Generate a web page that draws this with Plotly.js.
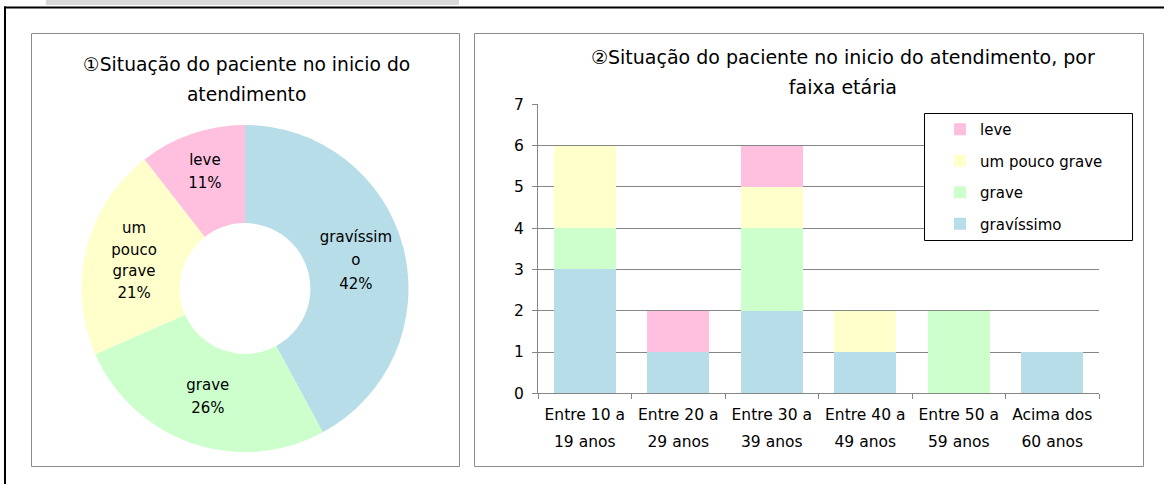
<!DOCTYPE html>
<html>
<head>
<meta charset="utf-8">
<script src="https://cdn.plot.ly/plotly-3.0.1.min.js"></script>
<style>html,body{margin:0;padding:0;background:#fff;}#chart{width:1164px;height:484px;}</style>
</head>
<body>
<div id="chart"></div>
<script>
// ---- data ----
const severities = ["gravíssimo", "grave", "um pouco grave", "leve"];
const pieCounts = [8, 5, 4, 2];
const pieLabelLines = [["gravíssim", "o"], ["grave"], ["um", "pouco", "grave"], ["leve"]];
const categories = ["Entre 10 a 19 anos", "Entre 20 a 29 anos", "Entre 30 a 39 anos", "Entre 40 a 49 anos", "Entre 50 a 59 anos", "Acima dos 60 anos"];
const tickLine1 = ["Entre 10 a", "Entre 20 a", "Entre 30 a", "Entre 40 a", "Entre 50 a", "Acima dos"];
const tickLine2 = ["19 anos", "29 anos", "39 anos", "49 anos", "59 anos", "60 anos"];
const gravissimo = [3, 1, 2, 1, 0, 1];
const grave = [1, 0, 2, 0, 2, 0];
const umPoucoGrave = [2, 0, 1, 1, 0, 0];
const leve = [0, 1, 1, 0, 0, 0];
const colors = ["#b7dde8", "#ccffcc", "#ffffcc", "#ffc0e0"];
const pieTitleLines = ["①Situação do paciente no inicio do", "atendimento"];
const barTitleLines = ["②Situação do paciente no inicio do atendimento, por", "faixa etária"];

// ---- layout helpers (pixel -> paper) ----
const W = 1164, H = 484;
const px = v => v / W;
const py = v => 1 - v / H;
const FONT = "DejaVu Sans, Verdana, sans-serif";
// multi-line text with wide line spacing: outer font size drives spacing, inner span sets glyph size
const lines = (arr, size) => arr.map(t => '<span style="font-size:' + size + 'px">' + t + '</span>').join("<br>");

const barSeries = [gravissimo, grave, umPoucoGrave, leve];
const traces = [];
traces.push({
  type: "pie",
  labels: severities,
  values: pieCounts,
  text: pieLabelLines.map(l => lines(l, 15)),
  texttemplate: '%{text}<br><span style="font-size:15px">%{percent:.0%}</span>',
  textposition: "inside",
  insidetextorientation: "horizontal",
  insidetextfont: {family: FONT, size: [18, 18, 16.5, 18], color: "#000"},
  marker: {colors: colors, line: {width: 0}},
  hole: 0.4,
  sort: false,
  direction: "clockwise",
  rotation: 0,
  showlegend: false,
  hoverinfo: "none",
  domain: {x: [px(81.5), px(408.5)], y: [py(452), py(125)]}
});
barSeries.forEach((s, i) => {
  traces.push({
    type: "bar",
    name: severities[i],
    x: categories,
    y: s,
    marker: {color: colors[i], line: {width: 0}},
    legendgroup: "g" + i,
    legendrank: 10 - i,
    hoverinfo: "none",
    xaxis: "x", yaxis: "y"
  });
});

const gridColor = "#868686";
const layout = {
  width: W, height: H,
  margin: {l: 0, r: 0, t: 0, b: 0},
  paper_bgcolor: "#fff", plot_bgcolor: "rgba(0,0,0,0)",
  font: {family: FONT, size: 15, color: "#000"},
  barmode: "stack",
  bargap: 0.333,
  showlegend: true,
  legend: {
    x: px(940), xanchor: "left", y: py(113), yanchor: "top",
    bgcolor: "rgba(0,0,0,0)", borderwidth: 0,
    traceorder: "grouped", tracegroupgap: 9,
    font: {family: FONT, size: 15, color: "#000"}
  },
  xaxis: {
    domain: [px(538), px(1099)],
    anchor: "y",
    type: "category",
    tickmode: "array", tickvals: categories,
    ticktext: tickLine1.map((t, i) => lines([t, tickLine2[i]], 15.5)),
    showline: true, linecolor: gridColor, linewidth: 1,
    ticks: "outside", tickson: "boundaries", ticklen: 5, tickcolor: gridColor,
    showgrid: false, zeroline: false,
    ticklabelstandoff: 0,
    tickfont: {family: FONT, size: 21, color: "#000"},
    fixedrange: true
  },
  yaxis: {
    domain: [py(393.3), py(104.3)],
    anchor: "x",
    range: [0, 7], dtick: 1, tick0: 0,
    showline: true, linecolor: gridColor, linewidth: 1,
    ticks: "outside", ticklen: 5, tickcolor: gridColor,
    showgrid: true, gridcolor: gridColor, gridwidth: 1,
    zeroline: false,
    ticklabelstandoff: 5,
    tickfont: {family: FONT, size: 15.5, color: "#000"},
    fixedrange: true
  },
  annotations: [
    {text: lines(pieTitleLines, 18.7), x: px(246), y: py(79.5), xref: "paper", yref: "paper", showarrow: false, xanchor: "center", yanchor: "middle", font: {family: FONT, size: 23}},
    {text: lines(barTitleLines, 19), x: px(843), y: py(72), xref: "paper", yref: "paper", showarrow: false, xanchor: "center", yanchor: "middle", font: {family: FONT, size: 23}}
  ],
  shapes: [
    {type: "rect", xref: "paper", yref: "paper", x0: px(46), x1: px(459), y0: py(0), y1: py(5), fillcolor: "#d9d9d9", line: {width: 0}, layer: "below"},
    {type: "line", xref: "paper", yref: "paper", x0: px(4), x1: px(1164), y0: py(7.5), y1: py(7.5), line: {color: "#000", width: 2}},
    {type: "line", xref: "paper", yref: "paper", x0: px(5), x1: px(5), y0: py(6.5), y1: py(484), line: {color: "#000", width: 2}},
    {type: "rect", xref: "paper", yref: "paper", x0: px(31.5), x1: px(459.5), y0: py(33.5), y1: py(466.5), line: {color: "#8c8c8c", width: 1}, fillcolor: "rgba(0,0,0,0)", layer: "below"},
    {type: "rect", xref: "paper", yref: "paper", x0: px(474.5), x1: px(1143.5), y0: py(33.5), y1: py(466.5), line: {color: "#8c8c8c", width: 1}, fillcolor: "rgba(0,0,0,0)", layer: "below"},
    {type: "rect", xref: "paper", yref: "paper", x0: px(924.5), x1: px(1132.5), y0: py(113.5), y1: py(240.5), line: {color: "#000", width: 1}, fillcolor: "#fff", layer: "above"}
  ]
};

Plotly.newPlot("chart", traces, layout, {staticPlot: true, displayModeBar: false});
</script>
</body>
</html>
